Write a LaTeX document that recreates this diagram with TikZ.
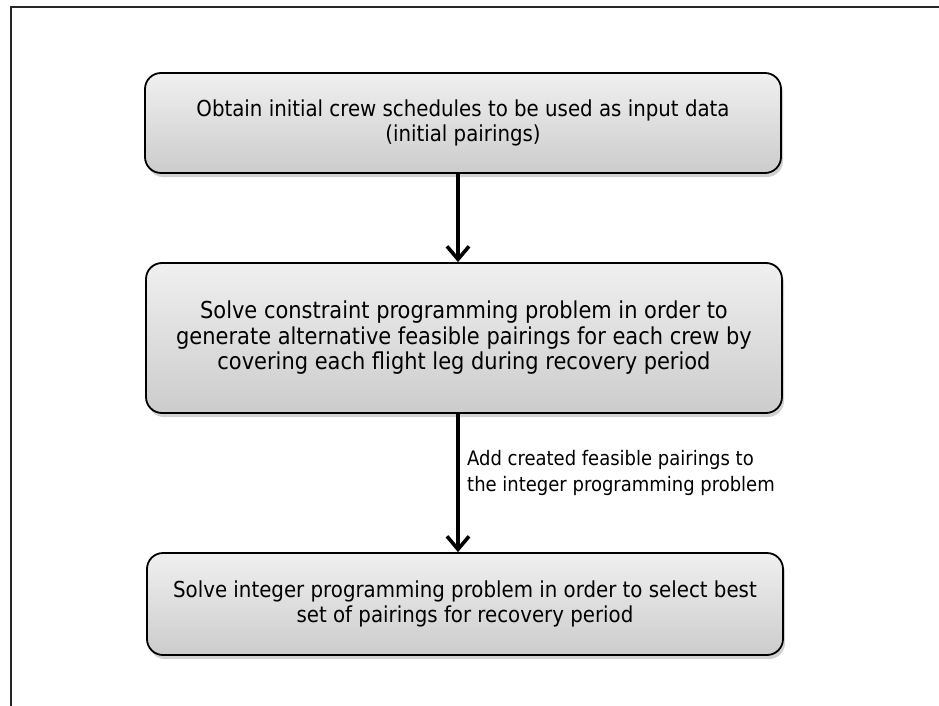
\documentclass[tikz,border=0pt]{standalone}
\usepackage{fontspec}
\setmainfont{DejaVu Sans Condensed}
\usetikzlibrary{arrows.meta,shadows}

\tikzset{
  stepbox/.style={
    draw=black, line width=1.8pt, rounded corners=16pt,
    top color=black!6, bottom color=black!20,
    minimum width=636pt, align=center,
    font=\fontsize{22}{25.5}\selectfont,
    drop shadow={shadow xshift=2pt, shadow yshift=-4pt, opacity=0.18, fill=black}
  },
  flow/.style={line width=3.6pt, -{Straight Barb[length=13pt,width=22pt,line width=3.6pt]}},
  note/.style={font=\fontsize{20}{25.5}\selectfont, align=left, anchor=west, inner sep=0pt}
}

\begin{document}
\begin{tikzpicture}[x=1pt,y=-1pt]
  \useasboundingbox (0,0) rectangle (939,706);

  % frame around the chart (cut at the right and bottom)
  \draw[line width=1.8pt, black!85] (11,706) -- (11,7) -- (939,7);

  % process steps
  \node[stepbox, minimum height=100pt] (init) at (463,123)
    {Obtain initial crew schedules to be used as input data\\(initial pairings)};
  \node[stepbox, minimum height=150pt, font=\fontsize{23.3}{25.5}\selectfont] (cp) at (464,338)
    {Solve constraint programming problem in order to\\generate alternative feasible pairings for each crew by\\covering each flight leg during recovery period};
  \node[stepbox, minimum height=102pt] (ip) at (465,604)
    {Solve integer programming problem in order to select best\\set of pairings for recovery period};

  % connectors
  \coordinate (axis) at (458,0);
  \draw[flow] (axis |- init.south) -- (axis |- cp.north);
  \draw[flow] (axis |- cp.south) -- (axis |- ip.north);

  \node[note] (addlbl) at (467,473)
    {Add created feasible pairings to\\the integer programming problem};
\end{tikzpicture}
\end{document}
